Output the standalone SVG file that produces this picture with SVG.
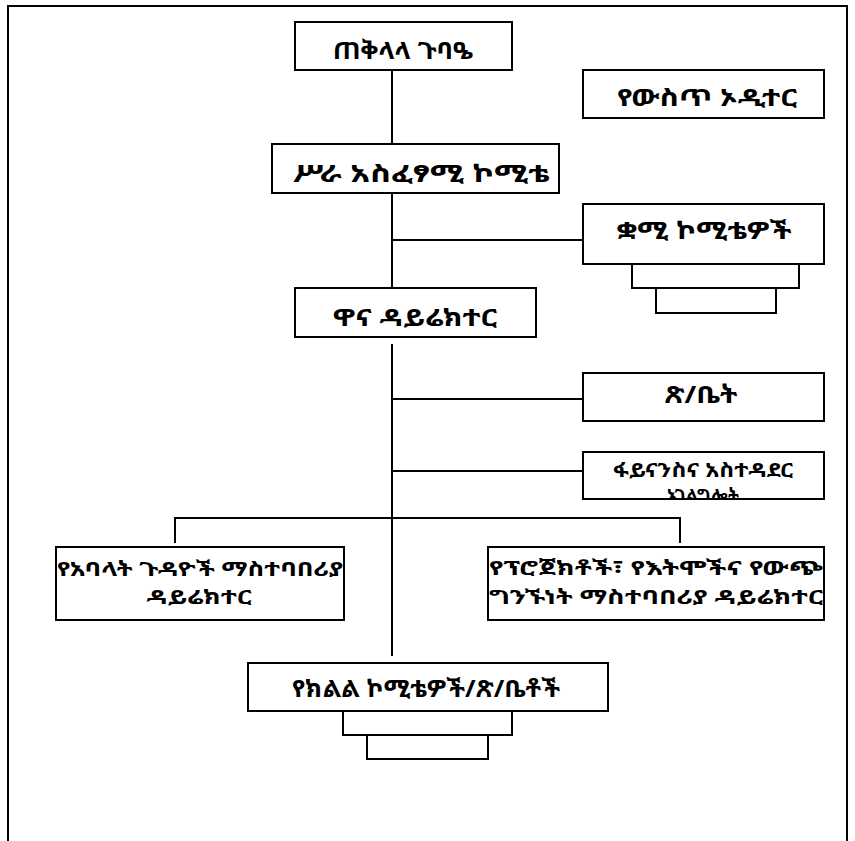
<svg xmlns="http://www.w3.org/2000/svg" width="855" height="841" viewBox="0 0 855 841">
<style>
.b{fill:#fff;stroke:#000;stroke-width:2}
.c{fill:none;stroke:#000;stroke-width:2}
.t{font-family:"Noto Sans Ethiopic","Noto Sans","DejaVu Sans",sans-serif;font-size:24px;font-weight:bold;fill:#000;text-anchor:middle}
.s{font-size:20px}
.m{font-size:20px}
</style>
<defs>
<clipPath id="clipFin"><rect x="583" y="452" width="241" height="46"/></clipPath>
</defs>
<rect width="855" height="841" fill="#fff"/>
<path class="c" d="M8,841 V6 H847 V841"/>
<g id="connectors">
<path class="c" d="M392,70 V144"/>
<path class="c" d="M392,193 V288"/>
<path class="c" d="M392,240 H583"/>
<path class="c" d="M392,344 V656"/>
<path class="c" d="M392,399 H583"/>
<path class="c" d="M392,471 H583"/>
<path class="c" d="M175,543 V518 H680 V543"/>
</g>
<g id="n1"><rect class="b" x="295" y="22" width="217" height="48"/><text class="t" x="403" y="59" textLength="140" lengthAdjust="spacingAndGlyphs">ጠቅላላ ጉባዔ</text></g>
<g id="n2"><rect class="b" x="583" y="70" width="241" height="48"/><text class="t" x="707" y="106" textLength="180" lengthAdjust="spacingAndGlyphs">የውስጥ ኦዲተር</text></g>
<g id="n3"><rect class="b" x="272" y="144" width="287" height="49"/><text class="t" x="421" y="182" textLength="257" lengthAdjust="spacingAndGlyphs">ሥራ አስፈፃሚ ኮሚቴ</text></g>
<g id="n4"><rect class="b" x="632" y="264" width="167" height="24"/><rect class="b" x="656" y="288" width="120" height="25"/><rect class="b" x="583" y="204" width="241" height="60"/><text class="t" x="704" y="239" textLength="175" lengthAdjust="spacingAndGlyphs">ቋሚ ኮሚቴዎች</text></g>
<g id="n5"><rect class="b" x="295" y="288" width="241" height="49"/><text class="t" x="415" y="326" textLength="164" lengthAdjust="spacingAndGlyphs">ዋና ዳይሬክተር</text></g>
<g id="n6"><rect class="b" x="583" y="373" width="241" height="48"/><text class="t" x="701" y="403" textLength="73" lengthAdjust="spacingAndGlyphs">ጽ/ቤት</text></g>
<g id="n7"><rect class="b" x="583" y="452" width="241" height="47"/><g clip-path="url(#clipFin)"><text class="t s" x="703" y="477" textLength="180" lengthAdjust="spacingAndGlyphs">ፋይናንስና አስተዳደር</text><text class="t s" x="703" y="503" textLength="72" lengthAdjust="spacingAndGlyphs">አገልግሎት</text></g></g>
<g id="n8"><rect class="b" x="56" y="547" width="288" height="73"/><text class="t m" x="200" y="576" textLength="286" lengthAdjust="spacingAndGlyphs">የአባላት ጉዳዮች ማስተባበሪያ</text><text class="t m" x="199" y="604" textLength="105" lengthAdjust="spacingAndGlyphs">ዳይሬክተር</text></g>
<g id="n9"><rect class="b" x="488" y="547" width="336" height="73"/><text class="t m" x="656" y="575" textLength="334" lengthAdjust="spacingAndGlyphs">የፕሮጀክቶች፣ የእትሞችና የውጭ</text><text class="t m" x="656" y="604" textLength="334" lengthAdjust="spacingAndGlyphs">ግንኙነት ማስተባበሪያ ዳይሬክተር</text></g>
<g id="n10"><rect class="b" x="343" y="711" width="169" height="24"/><rect class="b" x="367" y="735" width="121" height="24"/><rect class="b" x="248" y="663" width="360" height="48"/><text class="t" x="426" y="697" textLength="268" lengthAdjust="spacingAndGlyphs">የክልል ኮሚቴዎች/ጽ/ቤቶች</text></g>
</svg>
